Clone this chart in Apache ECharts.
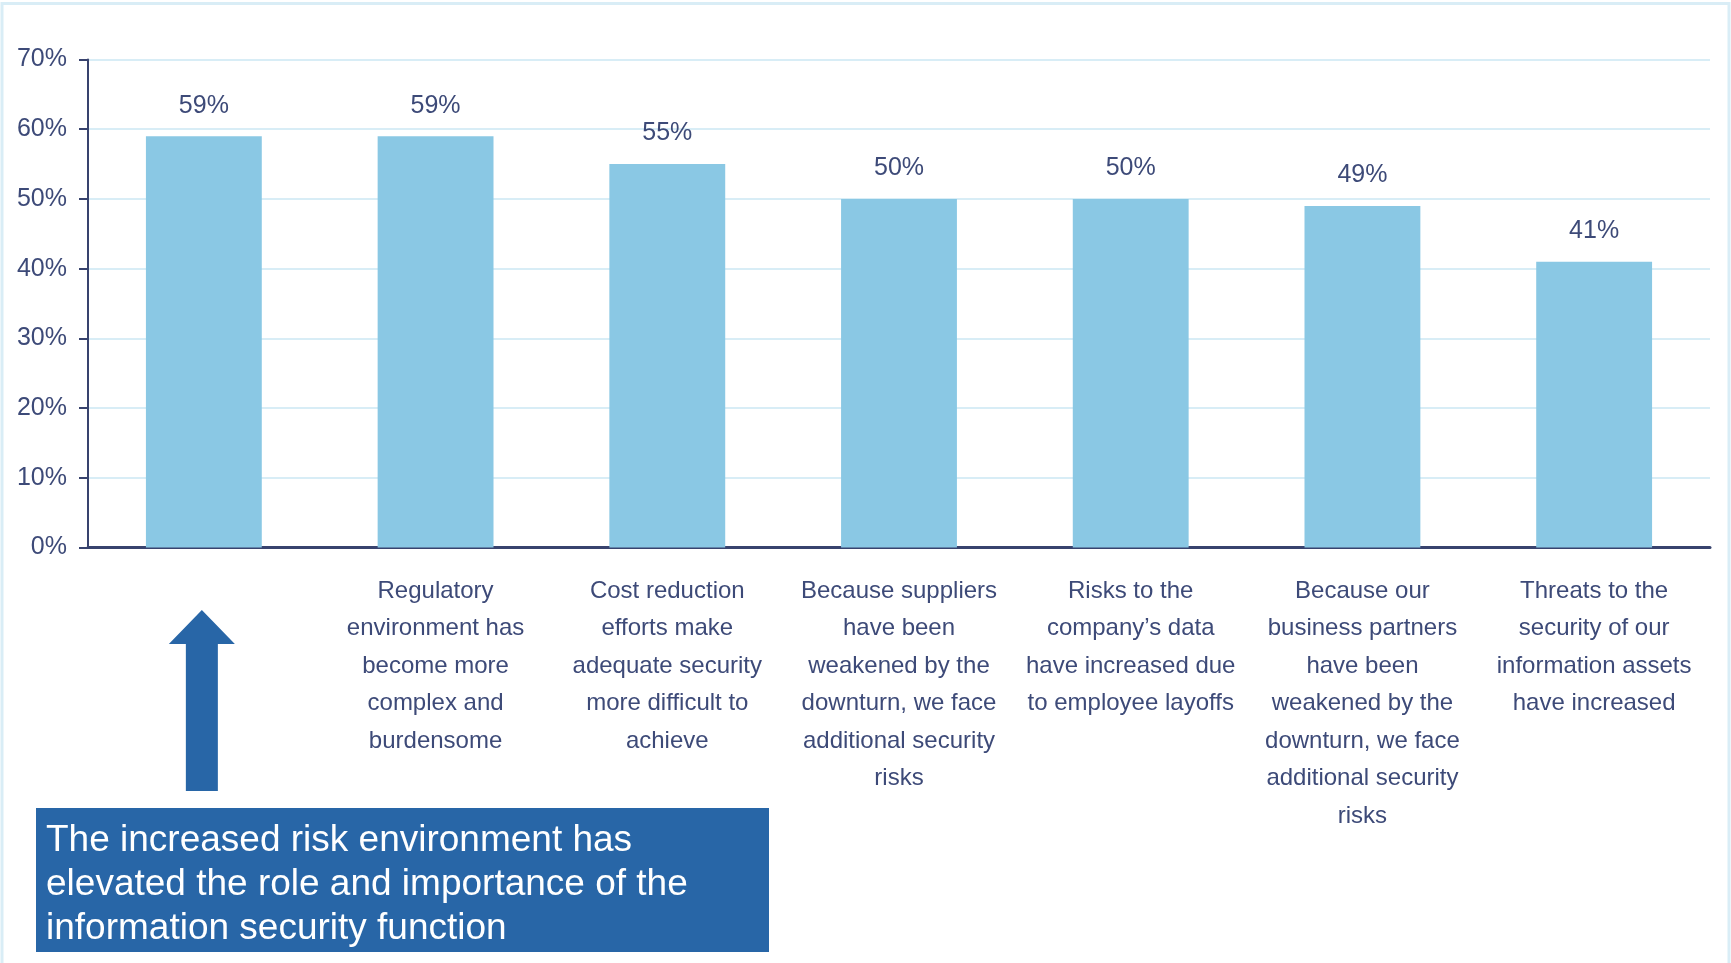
<!DOCTYPE html>
<html>
<head>
<meta charset="utf-8">
<title>Information security drivers</title>
<script src="https://cdn.jsdelivr.net/npm/echarts@6/dist/echarts.min.js"></script>
<style>
  html, body { margin: 0; padding: 0; background: #ffffff; }
  #chart { width: 1731px; height: 963px; }
</style>
</head>
<body>
<div id="chart"></div>
<script>
// Survey responses: share of respondents agreeing with each statement
const categories = [
  'The increased risk environment has\nelevated the role and importance of the\ninformation security function',
  'Regulatory\nenvironment has\nbecome more\ncomplex and\nburdensome',
  'Cost reduction\nefforts make\nadequate security\nmore difficult to\nachieve',
  'Because suppliers\nhave been\nweakened by the\ndownturn, we face\nadditional security\nrisks',
  'Risks to the\ncompany\u2019s data\nhave increased due\nto employee layoffs',
  'Because our\nbusiness partners\nhave been\nweakened by the\ndownturn, we face\nadditional security\nrisks',
  'Threats to the\nsecurity of our\ninformation assets\nhave increased'
];
const values = [59, 59, 55, 50, 50, 49, 41];
const yTicks = [0, 10, 20, 30, 40, 50, 60, 70];

const FONT = "'Liberation Sans', Arial, sans-serif";
const TEXT = '#3d4a78';
const AXIS = '#38436e';
const BAR = '#8ac8e4';
const GRID = '#d8edf6';
const CALLOUT = '#2866a7';

const chart = echarts.init(document.getElementById('chart'), null, { renderer: 'canvas' });

const option = {
  animation: false,
  backgroundColor: '#ffffff',
  grid: { left: 88, right: 21, top: 59.5, bottom: 415.5, containLabel: false },
  xAxis: {
    type: 'category',
    data: categories,
    axisLine: { show: true, lineStyle: { color: AXIS, width: 3 } },
    axisTick: { show: false },
    axisLabel: {
      interval: 0,
      margin: 25,
      color: TEXT,
      fontFamily: FONT,
      fontSize: 24,
      lineHeight: 37.5,
      align: 'center',
      verticalAlign: 'top',
      // the first statement is shown in the highlighted box below the chart
      formatter: (v, i) => (i === 0 ? '' : v)
    },
    splitLine: { show: false }
  },
  yAxis: {
    type: 'value',
    min: yTicks[0],
    max: yTicks[yTicks.length - 1],
    interval: 10,
    axisLine: { show: true, lineStyle: { color: AXIS, width: 2 } },
    axisTick: { show: true, inside: false, length: 9, lineStyle: { color: AXIS, width: 2 } },
    axisLabel: {
      margin: 21,
      color: TEXT,
      fontFamily: FONT,
      fontSize: 25,
      formatter: v => v + '%'
    },
    splitLine: { show: true, lineStyle: { color: GRID, width: 2 } }
  },
  series: [{
    type: 'bar',
    data: values,
    barWidth: '50%',
    itemStyle: { color: BAR },
    label: {
      show: true,
      position: 'top',
      distance: 18,
      color: TEXT,
      fontFamily: FONT,
      fontSize: 25,
      formatter: p => p.value + '%'
    },
    z: 3
  }]
};

chart.setOption(option);

// Arrow from the highlighted statement up to its bar, plus the statement box
const arrowX = chart.convertToPixel({ xAxisIndex: 0 }, categories[0]) - 2;
const headHalf = 33, shaftHalf = 16;
const tipY = 610, headBaseY = 644, shaftBottom = 791;

chart.setOption({
  graphic: [
    {
      type: 'rect',
      silent: true,
      shape: { x: 2, y: 3.5, width: 1727, height: 970 },
      style: { fill: 'none', stroke: '#d9edf6', lineWidth: 3 },
      z: 0
    },
    {
      type: 'polygon',
      silent: true,
      shape: {
        points: [
          [arrowX, tipY],
          [arrowX + headHalf, headBaseY],
          [arrowX + shaftHalf, headBaseY],
          [arrowX + shaftHalf, shaftBottom],
          [arrowX - shaftHalf, shaftBottom],
          [arrowX - shaftHalf, headBaseY],
          [arrowX - headHalf, headBaseY]
        ]
      },
      style: { fill: CALLOUT },
      z: 10
    },
    {
      type: 'rect',
      silent: true,
      shape: { x: 36, y: 808, width: 733, height: 144 },
      style: { fill: CALLOUT },
      z: 10
    },
    {
      type: 'text',
      silent: true,
      x: 46,
      y: 819,
      style: {
        text: categories[0],
        fill: '#ffffff',
        font: "37px 'Liberation Sans', Arial, sans-serif",
        lineHeight: 44,
        textAlign: 'left',
        textVerticalAlign: 'top'
      },
      z: 11
    }
  ]
});
</script>
</body>
</html>
